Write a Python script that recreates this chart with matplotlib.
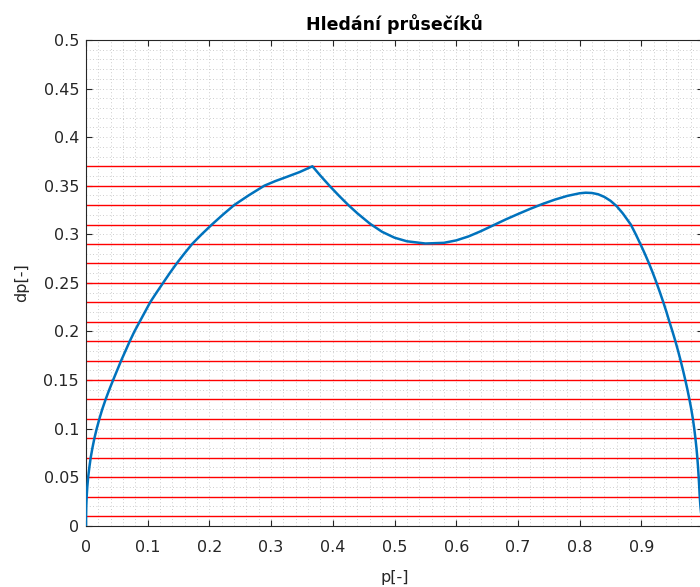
import numpy as np
import matplotlib.pyplot as plt
from matplotlib.ticker import MultipleLocator

# krivka dp(p) (leva vetev, spicka, dolik, vrchol, prava vetev)
p = [0, 0.0001, 0.0004, 0.0011, 0.0021, 0.0035, 0.0054, 0.0076, 0.0104, 0.0136,
     0.0174, 0.0217, 0.0264, 0.0318, 0.0377, 0.044, 0.0505, 0.057, 0.064, 0.071,
     0.0785, 0.087, 0.0955, 0.104, 0.1143, 0.125, 0.1357, 0.147, 0.1592, 0.172,
     0.1875, 0.204, 0.2215, 0.240, 0.2635, 0.289, 0.307, 0.325, 0.346, 0.367,
     0.38, 0.395, 0.41, 0.425, 0.44, 0.46, 0.48, 0.50, 0.52, 0.55,
     0.58, 0.60, 0.62, 0.64, 0.66, 0.68, 0.70, 0.72, 0.74, 0.76,
     0.78, 0.80, 0.81, 0.82, 0.83, 0.84, 0.85, 0.86, 0.87, 0.883,
     0.891, 0.8985, 0.9057, 0.9125, 0.9188, 0.9247, 0.9303, 0.9357, 0.9408, 0.9455,
     0.9505, 0.9552, 0.9596, 0.9637, 0.9676, 0.9713, 0.9748, 0.978, 0.981, 0.9836,
     0.9858, 0.9877, 0.9894, 0.9908, 0.992, 0.993, 0.9939, 0.9947, 0.9958, 0.9974, 1.0]
dp = [0, 0.01, 0.02, 0.03, 0.04, 0.05, 0.06, 0.07, 0.08, 0.09,
      0.10, 0.11, 0.12, 0.13, 0.14, 0.15, 0.16, 0.17, 0.18, 0.19,
      0.20, 0.21, 0.22, 0.23, 0.24, 0.25, 0.26, 0.27, 0.28, 0.29,
      0.30, 0.31, 0.32, 0.33, 0.34, 0.35, 0.3548, 0.359, 0.364, 0.37,
      0.3603, 0.3497, 0.3397, 0.3302, 0.3215, 0.311, 0.3025, 0.2965, 0.2928, 0.2905,
      0.2912, 0.2937, 0.2978, 0.3032, 0.3092, 0.3152, 0.3208, 0.3262, 0.3312, 0.3357,
      0.3395, 0.3422, 0.3428, 0.3425, 0.3412, 0.3385, 0.3345, 0.329, 0.3215, 0.31,
      0.30, 0.29, 0.28, 0.27, 0.26, 0.25, 0.24, 0.23, 0.22, 0.21,
      0.20, 0.19, 0.18, 0.17, 0.16, 0.15, 0.14, 0.13, 0.12, 0.11,
      0.10, 0.09, 0.08, 0.07, 0.06, 0.05, 0.04, 0.03, 0.02, 0.01, 0.0]

# hladiny pro hledani pruseciku
levels = np.arange(0.01, 0.3801, 0.02)

plt.rcParams['font.family'] = ['DejaVu Sans']

fig = plt.figure(figsize=(7.0, 5.87), dpi=100)
ax = fig.add_axes([86 / 700, 61.3 / 587, 617 / 700, 485.7 / 587])

for lv in levels:
    ax.axhline(lv, color='red', lw=1.0, zorder=2)
ax.plot(p, dp, color='#0072BD', lw=1.8, zorder=3, solid_joinstyle='round')

ax.set_xlim(0, 1)
ax.set_ylim(0, 0.5)
ax.xaxis.set_major_locator(MultipleLocator(0.1))
ax.yaxis.set_major_locator(MultipleLocator(0.05))
ax.xaxis.set_minor_locator(MultipleLocator(0.02))
ax.yaxis.set_minor_locator(MultipleLocator(0.01))
ax.set_xticklabels([f'{v:g}' for v in ax.get_xticks()])
ax.set_yticklabels([f'{v:g}' for v in ax.get_yticks()])

ax.grid(which='both', color='#a0a0a0', linestyle=(0, (1, 3)), lw=0.6, alpha=0.7)
ax.set_axisbelow(True)

ax.tick_params(which='major', direction='in', length=4, width=0.8, top=True, right=True,
               labelsize=11.5, labelcolor='#262626', color='#262626')
ax.tick_params(axis='x', pad=10)
ax.tick_params(axis='y', pad=5)
ax.tick_params(which='minor', length=0)
for s in ax.spines.values():
    s.set_color('#262626')
    s.set_linewidth(0.8)

ax.set_title('Hledání průsečíků', fontsize=12.5, fontweight='bold', pad=7)
ax.set_xlabel('p[-]', fontsize=11.5, color='#262626', labelpad=11)
ax.set_ylabel('dp[-]', fontsize=11.5, color='#262626', labelpad=10)

fig.savefig('out.png', dpi=100)
